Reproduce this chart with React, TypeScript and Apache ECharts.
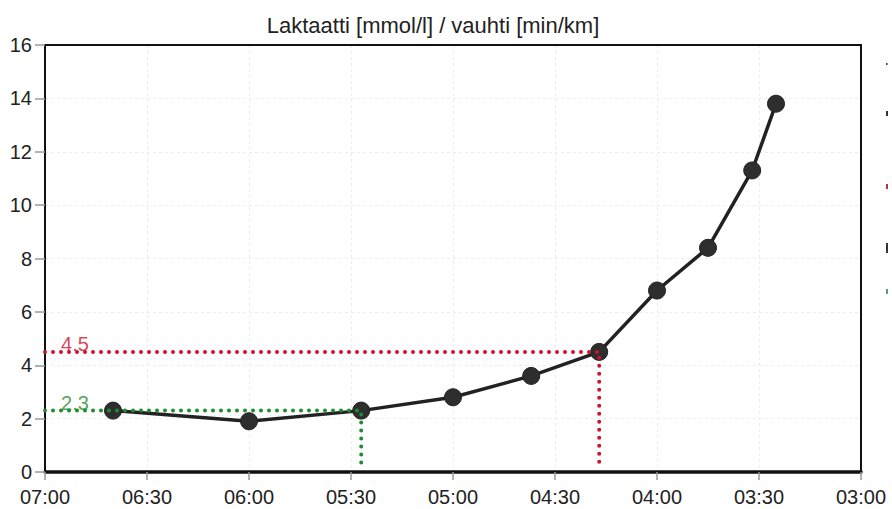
import React, { useEffect, useRef } from "react";
import * as echarts from "echarts";

// pace in seconds per km, lactate in mmol/l
const paceSec = [400, 360, 327, 300, 277, 257, 240, 225, 212, 205];
const lactate = [2.3, 1.9, 2.3, 2.8, 3.6, 4.5, 6.8, 8.4, 11.3, 13.8];

// thresholds: [pace seconds, lactate]
const aerobicThreshold = [327, 2.3];
const anaerobicThreshold = [257, 4.5];
const thresholdLineBottom = 0.3;

const paceMin = 180;
const paceMax = 420;
const paceStep = 30;
const lacMin = 0;
const lacMax = 16;
const lacStep = 2;

const titleText = "Laktaatti [mmol/l] / vauhti [min/km]";

const FONT = "Liberation Sans, Arial, sans-serif";
const RED = "#cf1230";
const GREEN = "#1e8c30";

function fmtPace(v: number) {
  const m = Math.floor(v / 60);
  const s = Math.round(v - m * 60);
  return String(m).padStart(2, "0") + ":" + String(s).padStart(2, "0");
}

function thresholdSeries(th: number[], color: string) {
  return [
    {
      type: "line",
      data: [
        [paceMax, th[1]],
        [th[0], th[1]],
        [th[0], thresholdLineBottom],
      ],
      symbol: "none",
      z: 5,
      lineStyle: { color, width: 4, type: [0, 8], cap: "round" },
      silent: true,
    },
    {
      type: "scatter",
      data: [[paceMax, th[1]]],
      symbolSize: 1,
      itemStyle: { color: "rgba(0,0,0,0)" },
      z: 6,
      label: {
        show: true,
        position: "top",
        distance: 0,
        offset: [30, 3],
        formatter: () => String(th[1]),
        color,
        fontFamily: FONT,
        fontSize: 20,
      },
      silent: true,
    },
  ];
}

export default function App() {
  const ref = useRef<HTMLDivElement>(null);
  useEffect(() => {
    if (!ref.current) return;
    const chart = echarts.init(ref.current, undefined, { renderer: "svg" });
    const split = {
      show: true,
      showMinLine: false,
      showMaxLine: false,
      lineStyle: { color: "#ececec", width: 1, type: [3, 3] },
    };
    chart.setOption({
      animation: false,
      backgroundColor: "#ffffff",
      textStyle: { fontFamily: FONT },
      title: {
        text: titleText,
        left: 428,
        top: 9,
        textAlign: "center",
        textStyle: { fontFamily: FONT, fontSize: 22, fontWeight: "normal", color: "#222" },
      },
      grid: {
        left: 45,
        right: 31,
        top: 45,
        bottom: 37,
        show: false,
      },
      xAxis: [
        {
          type: "value",
          inverse: true,
          min: paceMin,
          max: paceMax,
          interval: paceStep,
          axisLine: { show: true, onZero: false, lineStyle: { color: "#111", width: 3.5 } },
          axisTick: { show: true, length: 8, lineStyle: { color: "#999", width: 1.5 } },
          axisLabel: {
            formatter: (v: number) => fmtPace(v),
            fontFamily: FONT,
            fontSize: 20,
            color: "#222",
            margin: 15,
          },
          splitLine: split,
        },
        {
          type: "value",
          position: "top",
          inverse: true,
          min: paceMin,
          max: paceMax,
          interval: paceStep,
          axisLine: { show: true, onZero: false, lineStyle: { color: "#111", width: 2 } },
          axisTick: { show: false },
          axisLabel: { show: false },
          splitLine: { show: false },
        },
      ],
      yAxis: [
        {
          type: "value",
          min: lacMin,
          max: lacMax,
          interval: lacStep,
          axisLine: { show: true, onZero: false, lineStyle: { color: "#111", width: 2 } },
          axisTick: { show: true, length: 10, lineStyle: { color: "#999", width: 1.5 } },
          axisLabel: { fontFamily: FONT, fontSize: 20, color: "#222", margin: 13 },
          splitLine: split,
        },
        {
          type: "value",
          position: "right",
          min: lacMin,
          max: lacMax,
          interval: lacStep,
          axisLine: { show: true, onZero: false, lineStyle: { color: "#111", width: 2 } },
          axisTick: { show: false },
          axisLabel: { show: false },
          splitLine: { show: false },
        },
      ],
      series: [
        {
          type: "line",
          data: paceSec.map((p, i) => [p, lactate[i]]),
          symbol: "circle",
          symbolSize: 17,
          z: 3,
          lineStyle: { color: "#222", width: 3.5 },
          itemStyle: { color: "#2e2e2e", borderColor: "#222", borderWidth: 1 },
          silent: true,
        },
        ...thresholdSeries(anaerobicThreshold, RED),
        ...thresholdSeries(aerobicThreshold, GREEN),
      ],
      graphic: [
        { type: "rect", shape: { x: 886, y: 63, width: 1.5, height: 2 }, style: { fill: "#333" } },
        { type: "rect", shape: { x: 886, y: 111, width: 2, height: 5 }, style: { fill: "#333" } },
        { type: "rect", shape: { x: 886, y: 184, width: 2, height: 5 }, style: { fill: "#c0303a" } },
        { type: "rect", shape: { x: 886, y: 243, width: 2, height: 10 }, style: { fill: "#333" } },
        { type: "rect", shape: { x: 886, y: 289, width: 2, height: 5 }, style: { fill: "#5a9a8a" } },
      ],
    });
    return () => chart.dispose();
  }, []);
  return (
    <div
      ref={ref}
      style={{ position: "fixed", left: 0, top: 0, width: 892, height: 509, background: "#fff" }}
    />
  );
}
